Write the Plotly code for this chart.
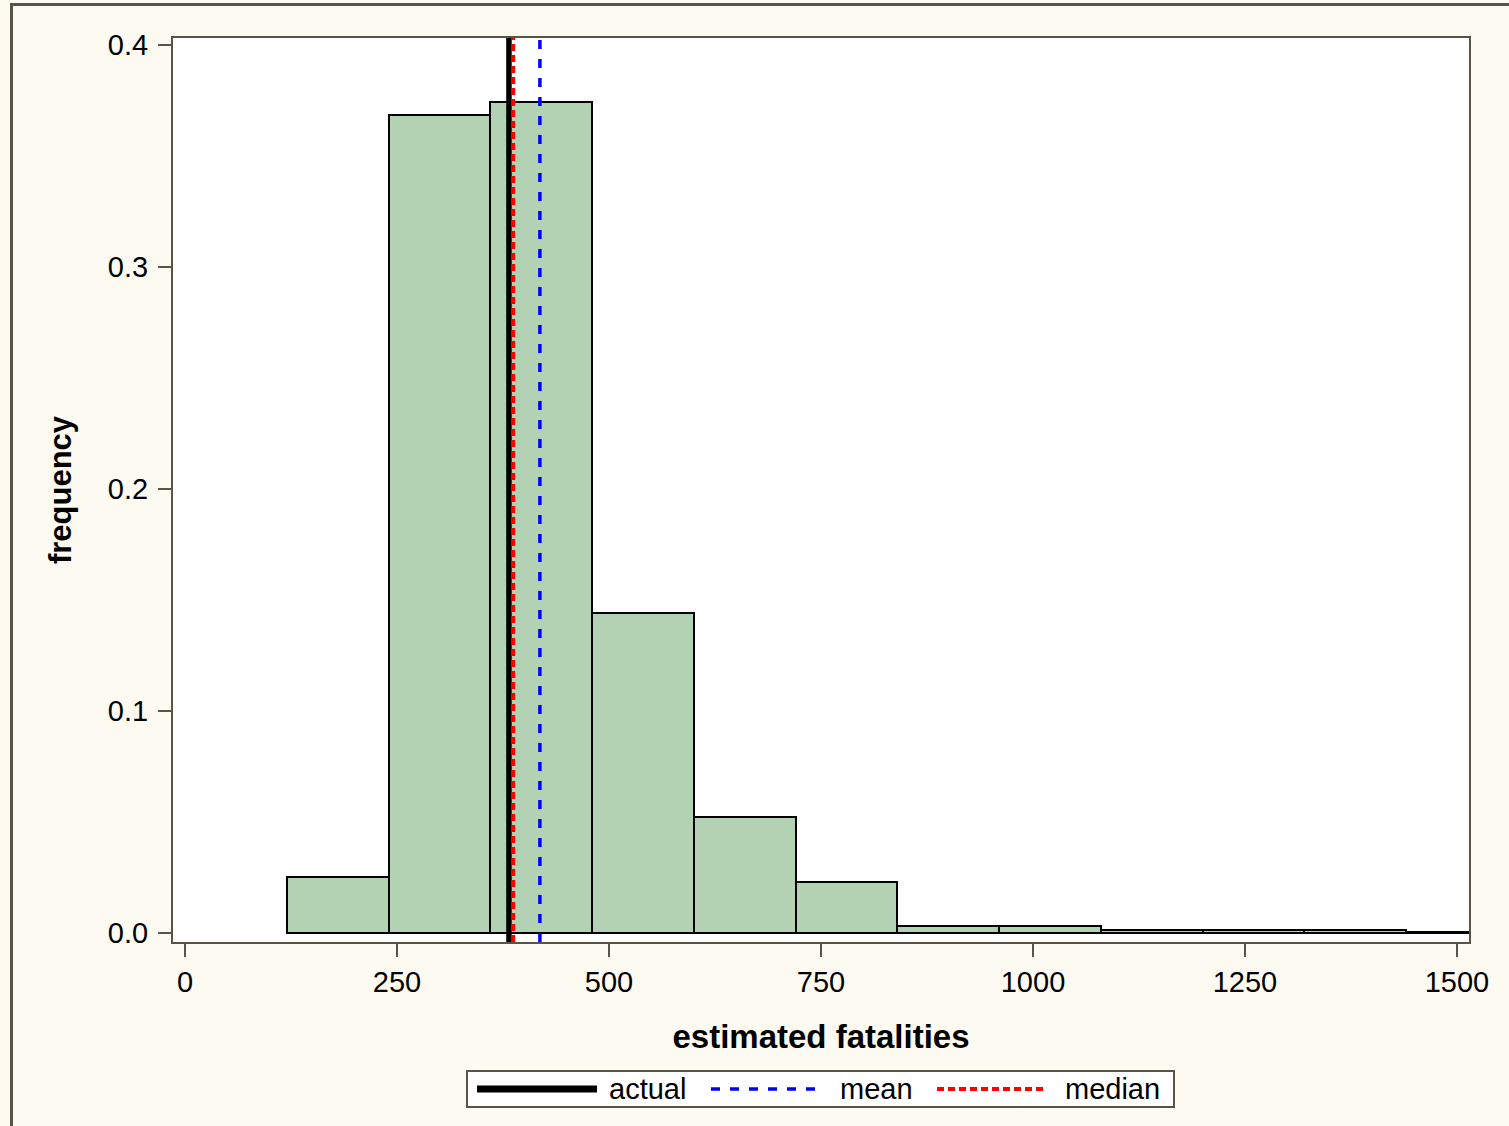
import plotly.graph_objects as go

# ---- data ----
bin_left = [120, 240, 360, 480, 600, 720, 840, 960, 1080, 1200, 1320, 1440]
bin_width = 120
frequency = [0.0252, 0.3685, 0.3743, 0.1441, 0.0523, 0.0230, 0.0031, 0.0030, 0.0012, 0.0012, 0.0012, 0.0006]
actual_value = 382
mean_value = 418.5
median_value = 387
x_ticks = [0, 250, 500, 750, 1000, 1250, 1500]
y_ticks = [0.0, 0.1, 0.2, 0.3, 0.4]
legend_names = ["actual", "mean", "median"]

FONT = "Liberation Sans, Arial, sans-serif"
FRAME = "#5a5446"
CREAM = "#fdfaf2"

W, H = 1509, 1126
# plot-area edges in page pixels
L, R, T, B = 173, 1469, 38, 942


def px(x):
    return (x - L) / (R - L)


def py(y):
    return (B - y) / (B - T)


centers = [b + bin_width / 2 for b in bin_left]

fig = go.Figure()
fig.add_trace(go.Bar(
    x=centers, y=frequency, width=[bin_width] * len(centers),
    marker=dict(color="#b3d1b3", line=dict(color="#000000", width=2)),
    showlegend=False, hoverinfo="x+y",
))

line_styles = {
    "actual": dict(color="#000000", width=5.5),
    "mean": dict(color="#0000ff", width=3.5, dash="9px,10px"),
    "median": dict(color="#ff0000", width=4, dash="7px,4px"),
}

shapes = []
# reference lines (data x, full height)
for name, val in [("actual", actual_value), ("mean", mean_value), ("median", median_value)]:
    shapes.append(dict(type="line", xref="x", yref="paper", x0=val, x1=val, y0=0, y1=1,
                       line=line_styles[name]))
# outer frame (left and top edges visible)
shapes.append(dict(type="rect", xref="paper", yref="paper",
                   x0=px(11.5), x1=px(W + 40), y0=py(H + 40), y1=py(4.5),
                   line=dict(color=FRAME, width=3), fillcolor="rgba(0,0,0,0)"))
# legend box
shapes.append(dict(type="rect", xref="paper", yref="paper",
                   x0=px(467), x1=px(1174), y0=py(1107), y1=py(1071),
                   line=dict(color=FRAME, width=2), fillcolor="#ffffff"))
ly = py(1089)
legend_pos = [(477, 597, 607), (711, 815, 838), (937, 1046, 1063)]
annotations = []
for name, (x0, x1, tx) in zip(legend_names, legend_pos):
    ln = dict(line_styles[name])
    if name == "actual":
        ln["width"] = 7
    shapes.append(dict(type="line", xref="paper", yref="paper",
                       x0=px(x0), x1=px(x1), y0=ly, y1=ly, line=ln))
    annotations.append(dict(xref="paper", yref="paper", x=px(tx), y=ly,
                            text=name, showarrow=False, xanchor="left", yanchor="middle",
                            font=dict(family=FONT, size=29, color="#000000")))

fig.update_layout(
    width=W, height=H,
    margin=dict(l=L, r=W - R, t=T, b=H - B),
    paper_bgcolor=CREAM, plot_bgcolor="#ffffff",
    font=dict(family=FONT, size=29, color="#000000"),
    bargap=0,
    shapes=shapes,
    annotations=annotations,
    showlegend=False,
    xaxis=dict(
        range=[-14.2, 1514.2], tickvals=x_ticks, ticktext=[str(v) for v in x_ticks],
        showgrid=False, zeroline=False, showline=True, mirror=True,
        linecolor=FRAME, linewidth=2, ticks="outside", ticklen=13, tickwidth=2,
        tickcolor=FRAME, tickfont=dict(size=29),
        title=dict(text="<b>estimated fatalities</b>", font=dict(size=33), standoff=28),
    ),
    yaxis=dict(
        range=[-0.00405, 0.40315], tickvals=y_ticks, ticktext=[f"{v:.1f}" for v in y_ticks],
        showgrid=False, zeroline=False, showline=True, mirror=True,
        linecolor=FRAME, linewidth=2, ticks="outside", ticklen=13, tickwidth=2,
        tickcolor=FRAME, tickfont=dict(size=29), ticklabelstandoff=4,
        title=dict(text="<b>frequency</b>", font=dict(size=31), standoff=27),
    ),
)

fig.write_html(
    "out.html",
    config={"displayModeBar": False},
    post_script="document.body.style.margin='0';document.body.style.background='%s';" % CREAM,
)
